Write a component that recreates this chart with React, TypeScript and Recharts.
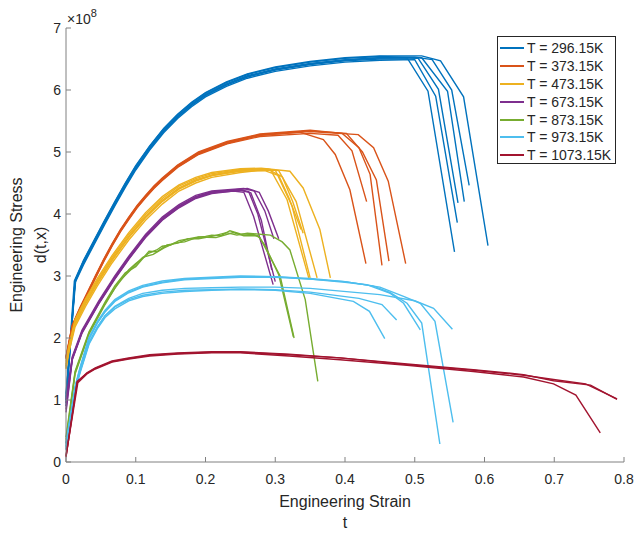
import React from 'react';
import { Legend, Line, LineChart, XAxis, YAxis } from 'recharts';

// strain (t) vs engineering stress (x 1e8), several test runs per temperature
const xTicks = [0, 0.1, 0.2, 0.3, 0.4, 0.5, 0.6, 0.7, 0.8];
const yTicks = [0, 1, 2, 3, 4, 5, 6, 7];
const temps = [
  'T = 296.15K',
  'T = 373.15K',
  'T = 473.15K',
  'T = 673.15K',
  'T = 873.15K',
  'T = 973.15K',
  'T = 1073.15K',
];
const colors = ['#0072BD', '#D95319', '#EDB120', '#7E2F8E', '#77AC30', '#4DBEEE', '#A2142F'];

const k296 = [
  [[0, 1.05], [0.013, 2.91], [0.025, 3.2], [0.04, 3.52], [0.055, 3.84], [0.07, 4.15], [0.085, 4.45], [0.1, 4.73], [0.12, 5.05], [0.14, 5.33], [0.16, 5.56], [0.18, 5.75], [0.2, 5.91], [0.23, 6.08], [0.26, 6.21], [0.3, 6.32], [0.35, 6.41], [0.4, 6.47], [0.45, 6.5], [0.49, 6.5], [0.519, 5.98], [0.557, 3.39]],
  [[0, 0.95], [0.013, 2.89], [0.025, 3.18], [0.04, 3.5], [0.055, 3.82], [0.07, 4.13], [0.085, 4.43], [0.1, 4.71], [0.12, 5.03], [0.14, 5.31], [0.16, 5.54], [0.18, 5.73], [0.2, 5.89], [0.23, 6.06], [0.26, 6.19], [0.3, 6.3], [0.35, 6.39], [0.4, 6.45], [0.45, 6.48], [0.5, 6.49], [0.53, 5.9], [0.561, 3.86]],
  [[0, 1.0], [0.013, 2.93], [0.025, 3.22], [0.04, 3.54], [0.055, 3.86], [0.07, 4.17], [0.085, 4.47], [0.1, 4.75], [0.12, 5.07], [0.14, 5.35], [0.16, 5.58], [0.18, 5.77], [0.2, 5.93], [0.23, 6.1], [0.26, 6.23], [0.3, 6.34], [0.35, 6.43], [0.4, 6.49], [0.45, 6.52], [0.505, 6.51], [0.534, 6.01], [0.562, 4.18]],
  [[0, 1.1], [0.014, 2.95], [0.025, 3.24], [0.04, 3.56], [0.055, 3.88], [0.07, 4.19], [0.085, 4.49], [0.1, 4.77], [0.12, 5.09], [0.14, 5.37], [0.16, 5.6], [0.18, 5.79], [0.2, 5.95], [0.23, 6.12], [0.26, 6.25], [0.3, 6.36], [0.35, 6.45], [0.4, 6.51], [0.45, 6.54], [0.51, 6.52], [0.547, 5.98], [0.571, 4.2]],
  [[0, 0.9], [0.013, 2.92], [0.025, 3.21], [0.04, 3.53], [0.055, 3.85], [0.07, 4.16], [0.085, 4.46], [0.1, 4.74], [0.12, 5.06], [0.14, 5.34], [0.16, 5.57], [0.18, 5.76], [0.2, 5.92], [0.23, 6.09], [0.26, 6.22], [0.3, 6.33], [0.35, 6.42], [0.4, 6.48], [0.45, 6.52], [0.5, 6.53], [0.525, 6.49], [0.553, 6.0], [0.578, 4.46]],
  [[0, 1.0], [0.012, 2.92], [0.025, 3.25], [0.04, 3.57], [0.055, 3.89], [0.07, 4.2], [0.085, 4.5], [0.1, 4.78], [0.12, 5.1], [0.14, 5.38], [0.16, 5.61], [0.18, 5.8], [0.2, 5.96], [0.23, 6.13], [0.26, 6.26], [0.3, 6.37], [0.35, 6.46], [0.4, 6.52], [0.45, 6.55], [0.51, 6.55], [0.537, 6.47], [0.57, 5.89], [0.605, 3.49]],
];

const k373 = [
  [[0, 1.68], [0.009, 2.19], [0.02, 2.47], [0.03, 2.7], [0.042, 2.98], [0.054, 3.25], [0.066, 3.5], [0.078, 3.73], [0.09, 3.93], [0.102, 4.12], [0.114, 4.28], [0.126, 4.43], [0.138, 4.56], [0.16, 4.77], [0.19, 4.98], [0.231, 5.15], [0.278, 5.27], [0.335, 5.32], [0.369, 5.2], [0.386, 4.96], [0.407, 4.39], [0.43, 3.2]],
  [[0, 1.66], [0.009, 2.17], [0.02, 2.45], [0.03, 2.68], [0.042, 2.96], [0.054, 3.23], [0.066, 3.48], [0.078, 3.71], [0.09, 3.91], [0.102, 4.1], [0.114, 4.26], [0.126, 4.41], [0.138, 4.54], [0.16, 4.75], [0.19, 4.96], [0.231, 5.13], [0.278, 5.25], [0.35, 5.3], [0.39, 5.27], [0.41, 5.02], [0.431, 4.2]],
  [[0, 1.7], [0.009, 2.21], [0.02, 2.49], [0.03, 2.72], [0.042, 3.0], [0.054, 3.27], [0.066, 3.52], [0.078, 3.75], [0.09, 3.95], [0.102, 4.14], [0.114, 4.3], [0.126, 4.45], [0.138, 4.58], [0.16, 4.79], [0.19, 5.0], [0.231, 5.17], [0.278, 5.29], [0.35, 5.35], [0.396, 5.3], [0.42, 5.07], [0.436, 4.64], [0.453, 3.17]],
  [[0, 1.69], [0.009, 2.2], [0.02, 2.48], [0.03, 2.71], [0.042, 2.99], [0.054, 3.26], [0.066, 3.51], [0.078, 3.74], [0.09, 3.94], [0.102, 4.13], [0.114, 4.29], [0.126, 4.44], [0.138, 4.57], [0.16, 4.78], [0.19, 4.99], [0.231, 5.16], [0.278, 5.28], [0.35, 5.34], [0.402, 5.3], [0.425, 5.0], [0.445, 4.55], [0.463, 3.24]],
  [[0, 1.67], [0.009, 2.18], [0.02, 2.46], [0.03, 2.69], [0.042, 2.97], [0.054, 3.24], [0.066, 3.49], [0.078, 3.72], [0.09, 3.92], [0.102, 4.11], [0.114, 4.27], [0.126, 4.42], [0.138, 4.55], [0.16, 4.76], [0.19, 4.97], [0.231, 5.14], [0.278, 5.27], [0.35, 5.33], [0.419, 5.28], [0.441, 5.07], [0.462, 4.53], [0.487, 3.2]],
];

const k473 = [
  [[0, 1.55], [0.004, 1.81], [0.013, 2.24], [0.028, 2.57], [0.045, 2.9], [0.066, 3.27], [0.09, 3.64], [0.114, 3.96], [0.138, 4.22], [0.162, 4.42], [0.186, 4.55], [0.209, 4.63], [0.25, 4.71], [0.28, 4.73], [0.293, 4.72], [0.317, 4.23], [0.348, 2.97]],
  [[0, 1.5], [0.004, 1.76], [0.013, 2.18], [0.028, 2.51], [0.045, 2.84], [0.066, 3.21], [0.09, 3.58], [0.114, 3.9], [0.138, 4.16], [0.162, 4.37], [0.186, 4.5], [0.209, 4.59], [0.25, 4.67], [0.275, 4.7], [0.3, 4.71], [0.324, 4.13], [0.35, 2.97]],
  [[0, 1.58], [0.004, 1.84], [0.013, 2.27], [0.028, 2.6], [0.045, 2.93], [0.066, 3.3], [0.09, 3.67], [0.114, 3.99], [0.138, 4.25], [0.162, 4.45], [0.186, 4.57], [0.209, 4.65], [0.25, 4.72], [0.28, 4.73], [0.305, 4.7], [0.33, 4.2], [0.36, 2.97]],
  [[0, 1.62], [0.004, 1.87], [0.013, 2.3], [0.028, 2.63], [0.045, 2.96], [0.066, 3.33], [0.09, 3.7], [0.114, 4.02], [0.138, 4.28], [0.162, 4.47], [0.186, 4.59], [0.209, 4.67], [0.25, 4.73], [0.28, 4.74], [0.321, 4.69], [0.34, 4.42], [0.364, 3.75], [0.379, 2.97]],
  [[0, 1.52], [0.004, 1.79], [0.013, 2.22], [0.028, 2.55], [0.045, 2.88], [0.066, 3.25], [0.09, 3.62], [0.114, 3.94], [0.138, 4.2], [0.162, 4.4], [0.186, 4.53], [0.209, 4.62], [0.25, 4.7], [0.29, 4.72], [0.31, 4.6], [0.325, 4.2], [0.34, 3.69]],
  [[0, 1.54], [0.004, 1.8], [0.013, 2.23], [0.028, 2.56], [0.045, 2.89], [0.066, 3.26], [0.09, 3.63], [0.114, 3.95], [0.138, 4.21], [0.162, 4.41], [0.186, 4.54], [0.209, 4.62], [0.25, 4.69], [0.285, 4.7], [0.305, 4.62], [0.32, 4.25], [0.337, 3.75]],
];

const k673 = [
  [[0, 0.8], [0.009, 1.65], [0.023, 2.08], [0.047, 2.55], [0.07, 2.95], [0.09, 3.27], [0.114, 3.62], [0.138, 3.9], [0.162, 4.1], [0.186, 4.25], [0.209, 4.33], [0.24, 4.37], [0.255, 4.35], [0.269, 3.96], [0.297, 2.86]],
  [[0, 0.9], [0.009, 1.68], [0.023, 2.11], [0.047, 2.58], [0.07, 2.98], [0.09, 3.3], [0.114, 3.65], [0.138, 3.93], [0.162, 4.13], [0.186, 4.28], [0.209, 4.36], [0.25, 4.39], [0.262, 4.36], [0.275, 4.0], [0.3, 2.91]],
  [[0, 1.0], [0.009, 1.7], [0.023, 2.13], [0.047, 2.6], [0.07, 3.0], [0.09, 3.32], [0.114, 3.67], [0.138, 3.95], [0.162, 4.15], [0.186, 4.3], [0.209, 4.37], [0.255, 4.41], [0.27, 4.37], [0.285, 4.05], [0.298, 3.6]],
  [[0, 0.85], [0.009, 1.66], [0.023, 2.09], [0.047, 2.56], [0.07, 2.96], [0.09, 3.28], [0.114, 3.63], [0.138, 3.91], [0.162, 4.11], [0.186, 4.27], [0.209, 4.35], [0.26, 4.41], [0.277, 4.35], [0.29, 4.05], [0.305, 3.6]],
  [[0, 0.95], [0.009, 1.67], [0.023, 2.1], [0.047, 2.57], [0.07, 2.97], [0.09, 3.29], [0.114, 3.64], [0.138, 3.92], [0.162, 4.12], [0.186, 4.26], [0.209, 4.34], [0.25, 4.38], [0.265, 4.34], [0.28, 3.9], [0.295, 3.1]],
];

const k873 = [
  [[0, 0.36], [0.013, 1.44], [0.033, 2.08], [0.056, 2.56], [0.07, 2.8], [0.09, 3.1], [0.1, 3.2], [0.119, 3.37], [0.13, 3.42], [0.138, 3.48], [0.15, 3.5], [0.162, 3.57], [0.186, 3.62], [0.2, 3.64], [0.209, 3.66], [0.222, 3.65], [0.235, 3.73], [0.25, 3.68], [0.269, 3.67], [0.278, 3.62], [0.307, 3.0], [0.327, 2.0]],
  [[0, 0.4], [0.013, 1.46], [0.033, 2.1], [0.056, 2.58], [0.07, 2.84], [0.085, 3.05], [0.1, 3.15], [0.119, 3.4], [0.13, 3.39], [0.145, 3.5], [0.16, 3.53], [0.175, 3.6], [0.19, 3.6], [0.209, 3.64], [0.23, 3.7], [0.245, 3.66], [0.26, 3.69], [0.293, 3.66], [0.31, 3.55], [0.321, 3.42], [0.343, 2.62], [0.361, 1.3]],
  [[0, 0.3], [0.013, 1.42], [0.033, 2.06], [0.056, 2.54], [0.075, 2.9], [0.09, 3.07], [0.11, 3.3], [0.125, 3.35], [0.14, 3.45], [0.155, 3.53], [0.17, 3.55], [0.19, 3.63], [0.215, 3.62], [0.24, 3.7], [0.255, 3.65], [0.275, 3.65], [0.285, 3.5], [0.305, 3.02], [0.326, 2.02]],
];

const k973 = [
  [[0, 0.2], [0.013, 1.14], [0.02, 1.43], [0.033, 1.9], [0.045, 2.15], [0.056, 2.33], [0.07, 2.47], [0.09, 2.6], [0.11, 2.67], [0.138, 2.72], [0.17, 2.75], [0.209, 2.77], [0.25, 2.78], [0.3, 2.77], [0.35, 2.72], [0.412, 2.59], [0.435, 2.43], [0.457, 1.99]],
  [[0, 0.3], [0.013, 1.17], [0.02, 1.46], [0.033, 1.93], [0.045, 2.18], [0.056, 2.36], [0.07, 2.5], [0.09, 2.62], [0.11, 2.69], [0.138, 2.74], [0.17, 2.77], [0.209, 2.78], [0.25, 2.79], [0.3, 2.78], [0.35, 2.74], [0.42, 2.64], [0.453, 2.54], [0.474, 2.29]],
  [[0, 0.2], [0.013, 1.2], [0.02, 1.5], [0.033, 1.99], [0.045, 2.25], [0.056, 2.43], [0.07, 2.6], [0.09, 2.74], [0.11, 2.83], [0.138, 2.9], [0.17, 2.95], [0.209, 2.97], [0.25, 2.99], [0.3, 2.99], [0.35, 2.95], [0.4, 2.9], [0.431, 2.86], [0.465, 2.72], [0.484, 2.56], [0.508, 2.13]],
  [[0, 0.3], [0.013, 1.22], [0.02, 1.52], [0.033, 2.01], [0.045, 2.27], [0.056, 2.45], [0.07, 2.62], [0.09, 2.76], [0.11, 2.85], [0.138, 2.92], [0.17, 2.96], [0.209, 2.98], [0.25, 3.0], [0.3, 2.99], [0.35, 2.96], [0.4, 2.91], [0.44, 2.84], [0.465, 2.73], [0.489, 2.56], [0.51, 2.24], [0.536, 0.29]],
  [[0, 0.25], [0.013, 1.19], [0.02, 1.49], [0.033, 1.98], [0.045, 2.24], [0.056, 2.42], [0.07, 2.59], [0.09, 2.73], [0.11, 2.82], [0.138, 2.89], [0.17, 2.94], [0.209, 2.96], [0.25, 2.98], [0.3, 2.98], [0.35, 2.95], [0.4, 2.91], [0.45, 2.82], [0.484, 2.67], [0.508, 2.56], [0.529, 2.27], [0.555, 0.64]],
  [[0, 0.25], [0.013, 1.16], [0.02, 1.45], [0.033, 1.92], [0.045, 2.17], [0.056, 2.36], [0.07, 2.51], [0.09, 2.64], [0.11, 2.72], [0.138, 2.77], [0.17, 2.8], [0.209, 2.81], [0.25, 2.82], [0.3, 2.82], [0.35, 2.8], [0.45, 2.7], [0.5, 2.6], [0.527, 2.48], [0.554, 2.14]],
];

const k1073 = [
  [[0, 0.09], [0.016, 1.3], [0.03, 1.43], [0.042, 1.51], [0.066, 1.62], [0.09, 1.67], [0.12, 1.72], [0.16, 1.75], [0.209, 1.77], [0.25, 1.77], [0.32, 1.73], [0.393, 1.68], [0.489, 1.58], [0.584, 1.49], [0.656, 1.41], [0.699, 1.31], [0.752, 1.24], [0.79, 1.01]],
  [[0, 0.1], [0.017, 1.28], [0.03, 1.42], [0.042, 1.5], [0.066, 1.61], [0.09, 1.66], [0.12, 1.71], [0.16, 1.74], [0.209, 1.76], [0.25, 1.76], [0.32, 1.71], [0.393, 1.65], [0.489, 1.56], [0.584, 1.46], [0.656, 1.37], [0.699, 1.26], [0.731, 1.08], [0.766, 0.47]],
  [[0, 0.08], [0.016, 1.29], [0.03, 1.44], [0.042, 1.52], [0.066, 1.63], [0.09, 1.68], [0.12, 1.73], [0.16, 1.76], [0.209, 1.78], [0.25, 1.78], [0.32, 1.74], [0.393, 1.68], [0.489, 1.57], [0.584, 1.48], [0.656, 1.4], [0.699, 1.33], [0.745, 1.26], [0.79, 1.02]],
];

const groups = [k296, k373, k473, k673, k873, k973, k1073];

const series = groups.flatMap((reps, gi) =>
  reps.map((pts, ri) => ({
    id: `T${gi}-${ri}`,
    color: colors[gi],
    data: pts.map(([x, y]) => ({ x, y })),
  }))
);

const font = '"Liberation Sans", Arial, Helvetica, sans-serif';
const ink = '#262626';

const LegendBox = () => (
  <div
    style={{
      width: 119,
      height: 128,
      boxSizing: 'border-box',
      border: `1px solid ${ink}`,
      background: '#fff',
      paddingTop: 2,
      fontFamily: font,
      fontSize: 14,
      color: ink,
    }}
  >
    {temps.map((t, i) => (
      <div key={t} style={{ display: 'flex', alignItems: 'center', height: 17.9 }}>
        <span
          style={{
            display: 'inline-block',
            width: 24,
            height: 2,
            background: colors[i],
            marginLeft: 2,
            marginRight: 3,
          }}
        />
        <span style={{ whiteSpace: 'nowrap' }}>{t}</span>
      </div>
    ))}
  </div>
);

const XLabel = () => (
  <text fontFamily={font} fontSize={16} fill={ink} textAnchor="middle">
    <tspan x={345} y={507}>Engineering Strain</tspan>
    <tspan x={345} y={528}>t</tspan>
  </text>
);

const YLabel = () => (
  <g fontFamily={font} fill={ink}>
    <text x={22} y={245} fontSize={16} textAnchor="middle" transform="rotate(-90 22 245)">
      Engineering Stress
    </text>
    <text x={46} y={245} fontSize={16} textAnchor="middle" transform="rotate(-90 46 245)">
      d(t,x)
    </text>
    <text x={67} y={24} fontSize={14}>
      ×10
      <tspan fontSize={11} dy={-7}>8</tspan>
    </text>
  </g>
);

export default function App() {
  return (
    <div style={{ position: 'absolute', left: 0, top: 0, background: '#fff' }}>
      <LineChart
        width={635}
        height={533}
        margin={{ top: 28, right: 11, left: 0, bottom: 0 }}
      >
        <XAxis
          dataKey="x"
          type="number"
          domain={[0, 0.8]}
          ticks={xTicks}
          tickFormatter={(v) => String(v)}
          height={71}
          tickSize={-5}
          tickMargin={17}
          axisLine={{ stroke: '#808080' }}
          tickLine={{ stroke: '#808080' }}
          tick={{ fill: ink, fontSize: 14, fontFamily: font }}
          label={<XLabel />}
          allowDuplicatedCategory={false}
        />
        <YAxis
          type="number"
          domain={[0, 7]}
          ticks={yTicks}
          width={66}
          tickSize={-5}
          tickMargin={10}
          axisLine={{ stroke: '#808080' }}
          tickLine={{ stroke: '#808080' }}
          tick={{ fill: ink, fontSize: 14, fontFamily: font }}
          label={<YLabel />}
        />
        <Legend
          layout="vertical"
          align="center"
          verticalAlign="middle"
          content={() => <LegendBox />}
          wrapperStyle={{ left: 497, top: 36, width: 119, height: 128 }}
        />
        {series.map((s) => (
          <Line
            key={s.id}
            data={s.data}
            dataKey="y"
            type="linear"
            stroke={s.color}
            strokeWidth={1.4}
            dot={false}
            activeDot={false}
            legendType="none"
            isAnimationActive={false}
          />
        ))}
      </LineChart>
    </div>
  );
}
